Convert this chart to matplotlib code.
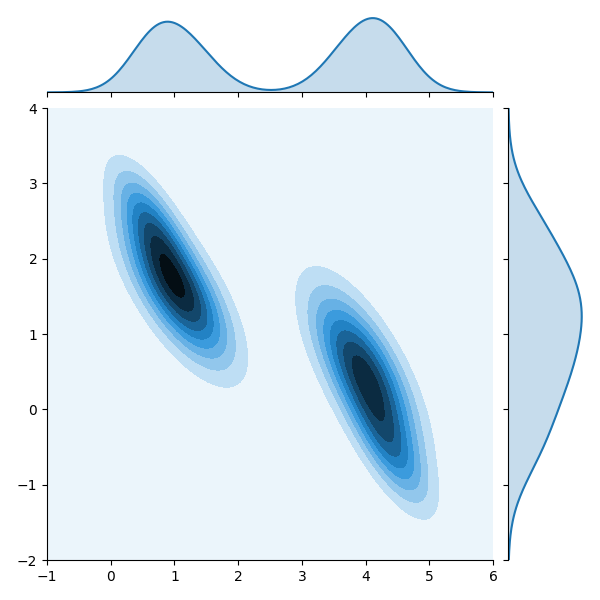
import colorsys
import numpy as np
import matplotlib
matplotlib.use("Agg")
import matplotlib.pyplot as plt
from matplotlib.colors import LinearSegmentedColormap, to_rgb

# mixture components: a main part and a tail part per blob
comp_mx = [1.05, 0.62, 3.97, 4.4]
comp_my = [1.58, 2.5, 0.5, -0.55]
comp_sx = [0.53, 0.38, 0.52, 0.4]
comp_sy = [0.62, 0.5, 0.68, 0.52]
comp_rho = [-0.7, -0.72, -0.7, -0.72]
comp_w = [0.38, 0.10, 0.39, 0.11]

xlim = (-1, 6)
ylim = (-2, 4)
color = "#1f77b4"


def pdf2(xx, yy):
    z = np.zeros_like(xx)
    for mx, my, sx, sy, r, w in zip(comp_mx, comp_my, comp_sx, comp_sy, comp_rho, comp_w):
        dx = (xx - mx) / sx
        dy = (yy - my) / sy
        q = (dx**2 - 2 * r * dx * dy + dy**2) / (1 - r**2)
        z += w * np.exp(-q / 2) / (2 * np.pi * sx * sy * np.sqrt(1 - r**2))
    return z


def pdf1(v, means, sds):
    out = np.zeros_like(v)
    for m, s, w in zip(means, sds, comp_w):
        out += w * np.exp(-0.5 * ((v - m) / s) ** 2) / (s * np.sqrt(2 * np.pi))
    return out


# white -> color -> black, like the old jointplot cmap
rgb = to_rgb(color)
h, l, s = colorsys.rgb_to_hls(*rgb)
cols = [colorsys.hls_to_rgb(h, lv, s) for lv in np.linspace(1, 0, 12)]
cmap = LinearSegmentedColormap.from_list("blend", cols)

fig = plt.figure(figsize=(6, 6), dpi=100)
W = H = 600.0
ax = fig.add_axes([47 / W, 40 / H, 446 / W, 452 / H])
ax_x = fig.add_axes([47 / W, 507.6 / H, 446 / W, 78 / H], sharex=ax)
ax_y = fig.add_axes([508.4 / W, 40 / H, 77 / W, 452 / H], sharey=ax)

gx = np.linspace(xlim[0], xlim[1], 200)
gy = np.linspace(ylim[0], ylim[1], 200)
xx, yy = np.meshgrid(gx, gy)
zz = pdf2(xx, yy)
ax.contourf(xx, yy, zz, 10, cmap=cmap)
ax.set_xlim(xlim)
ax.set_ylim(ylim)
for sp in ["top", "right"]:
    ax.spines[sp].set_visible(False)

dx = pdf1(gx, comp_mx, comp_sx)
ax_x.fill_between(gx, 0, dx, color=color, alpha=0.25, lw=0)
ax_x.plot(gx, dx, color=color, lw=1.5)
ax_x.set_ylim(0, dx.max() * 1.05)

dy = pdf1(gy, comp_my, comp_sy)
ax_y.fill_betweenx(gy, 0, dy, color=color, alpha=0.25, lw=0)
ax_y.plot(dy, gy, color=color, lw=1.5)
ax_y.set_xlim(0, dy.max() * 1.05)

for sp in ["top", "right", "left"]:
    ax_x.spines[sp].set_visible(False)
ax_x.tick_params(axis="x", labelbottom=False)
ax_x.tick_params(axis="y", left=False, labelleft=False)
for sp in ["top", "right", "bottom"]:
    ax_y.spines[sp].set_visible(False)
ax_y.tick_params(axis="y", labelleft=False)
ax_y.tick_params(axis="x", bottom=False, labelbottom=False)

fig.savefig("out.png", dpi=100)
